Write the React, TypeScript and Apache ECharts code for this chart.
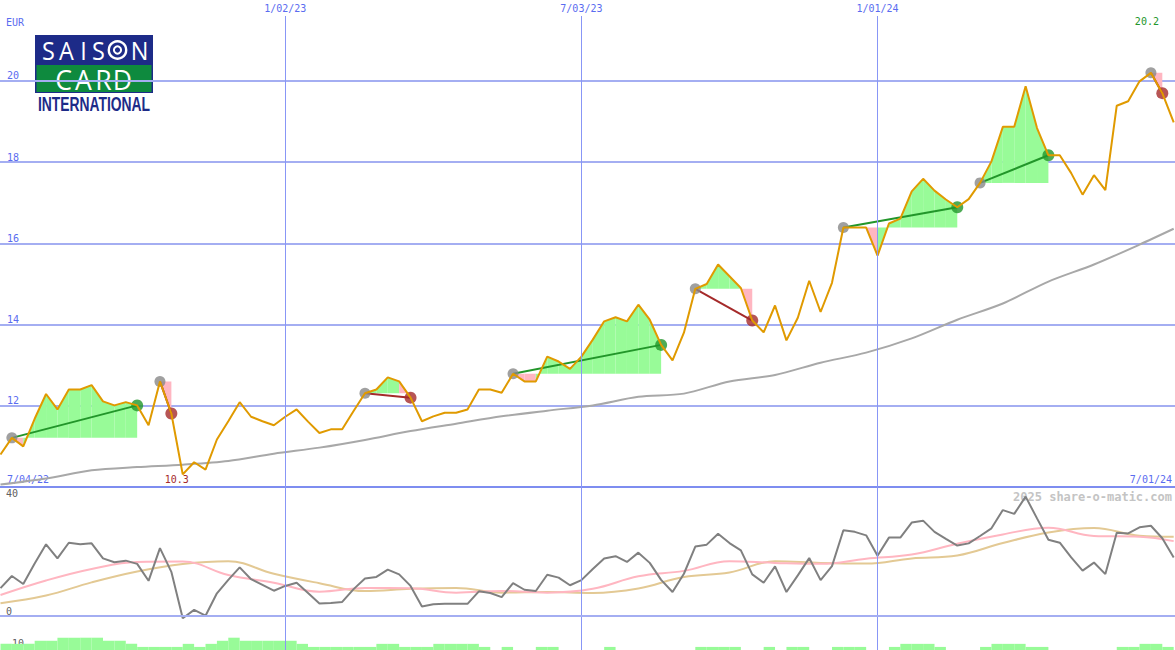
import React, { useEffect, useRef } from "react";
import * as echarts from "echarts";

// ---------- data ----------
const DAY = 86400000;
const FIRST_WEEK = Date.UTC(2022, 6, 11); // first weekly close shown
const weekTime = (k: number) => FIRST_WEEK + k * 7 * DAY;

// weekly closing price (EUR), week 0 .. 103
const price = [
  10.8, 11.21, 11.0, 11.68, 12.29, 11.91, 12.4, 12.4, 12.51, 12.11,
  12.01, 12.09, 12.01, 11.52, 12.6, 11.81, 10.31, 10.61, 10.43, 11.17,
  11.62, 12.09, 11.73, 11.62, 11.52, 11.73, 11.91, 11.61, 11.33, 11.42,
  11.42, 11.87, 12.31, 12.4, 12.7, 12.6, 12.2, 11.62, 11.74, 11.83,
  11.83, 11.91, 12.4, 12.4, 12.32, 12.79, 12.6, 12.6, 13.21, 13.09,
  12.91, 13.21, 13.63, 14.08, 14.18, 14.08, 14.49, 14.12, 13.5, 13.12,
  13.8, 14.88, 15.0, 15.48, 15.19, 14.9, 14.1, 13.81, 14.47, 13.61,
  14.17, 15.08, 14.31, 15.03, 16.39, 16.39, 16.39, 15.7, 16.49, 16.61,
  17.28, 17.59, 17.3, 17.08, 16.89, 17.09, 17.49, 18.02, 18.87, 18.87,
  19.87, 18.84, 18.17, 18.17, 17.73, 17.2, 17.68, 17.31, 19.39, 19.5,
  19.99, 20.2, 19.7, 18.98,
];

// oscillator (lower panel, grey), week 0 .. 103
const oscillator = [
  8.7, 12.5, 10.0, 16.4, 22.4, 18.0, 22.9, 22.4, 22.7, 18.0,
  16.8, 17.3, 16.3, 11.0, 21.2, 13.8, -0.7, 1.9, 0.1, 7.1,
  11.3, 15.2, 11.5, 9.7, 7.9, 9.4, 10.4, 7.2, 3.9, 4.1,
  4.4, 8.4, 11.7, 12.2, 14.5, 13.0, 9.4, 3.0, 3.7, 3.8,
  3.8, 3.8, 7.7, 7.2, 5.9, 10.3, 8.2, 7.8, 12.9, 12.0,
  9.6, 11.2, 14.7, 18.0, 18.7, 16.9, 19.8, 16.6, 11.3, 7.5,
  13.2, 21.7, 22.3, 25.7, 22.8, 20.5, 13.0, 10.4, 15.5, 7.5,
  12.7, 18.1, 11.2, 15.6, 26.8, 26.3, 25.2, 18.8, 24.5, 24.5,
  29.2, 29.8, 26.3, 24.1, 22.0, 22.7, 25.0, 27.4, 33.1, 31.9,
  37.3, 30.5, 23.8, 22.9, 18.3, 14.2, 16.7, 13.1, 26.0, 25.8,
  27.7, 28.2, 24.3, 18.3,
];

// smooth curves read every 4 weeks
const smoothWeeks = [0, 4, 8, 12, 16, 20, 24, 28, 32, 36, 40, 44, 48, 52, 56, 60, 64, 68, 72, 76, 80, 84, 88, 92, 96, 100, 103];
const movingAverage = [10.06, 10.21, 10.41, 10.49, 10.55, 10.64, 10.82, 10.97, 11.16, 11.38, 11.56, 11.74, 11.88, 12.01, 12.22, 12.3, 12.6, 12.76, 13.06, 13.31, 13.66, 14.12, 14.52, 15.06, 15.48, 15.97, 16.36];
const oscSignalFast = [6.56, 11.1, 14.7, 16.9, 17.0, 12.8, 10.4, 7.6, 8.75, 8.7, 7.3, 7.8, 7.3, 8.5, 12.4, 14.1, 17.1, 16.6, 16.3, 17.9, 19.2, 22.6, 25.5, 27.6, 25.0, 24.8, 23.4];
const oscSignalSlow = [4.0, 6.4, 10.5, 13.9, 16.25, 17.1, 13.2, 10.25, 7.8, 8.5, 8.75, 7.3, 7.5, 7.2, 8.6, 12.2, 13.6, 17.1, 16.6, 16.4, 18.0, 18.9, 22.8, 26.1, 27.5, 25.1, 24.8];

// weekly volume (relative units), week 0 .. 102
const volume = [
  2, 2, 2, 3, 3, 4, 4, 4, 4, 3,
  3, 2, 1, 1, 1, 1, 2, 1, 2, 3,
  4, 3, 3, 3, 3, 3, 2, 1, 1, 1,
  1, 1, 1, 2, 2, 1, 1, 1, 2, 2,
  2, 2, 1, 0, 1, 0, 0, 1, 1, 0,
  0, 0, 0, 1, 0, 0, 0, 0, 0, 0,
  0, 1, 1, 1, 1, 0, 0, 1, 0, 1,
  1, 0, 0, 1, 1, 1, 0, 0, 1, 2,
  2, 2, 1, 0, 0, 0, 1, 2, 2, 2,
  1, 1, 0, 0, 0, 0, 0, 0, 1, 1,
  2, 2, 1,
];

// trades (week indices)
const tradeEntryWeek = [1, 14, 32, 45, 61, 74, 86, 101];
const tradeExitWeek = [12, 15, 36, 58, 66, 84, 92, 102];

// date grid
const dateTickLabels = ["1/02/23", "7/03/23", "1/01/24"];
const dateTickTimes = [Date.UTC(2023, 0, 2), Date.UTC(2023, 6, 3), Date.UTC(2024, 0, 1)];
const rangeStartLabel = "7/04/22";
const rangeEndLabel = "7/01/24";

// ---------- styles ----------
const AX_MIN = FIRST_WEEK - 0.3 * DAY;
const AX_MAX = AX_MIN + 722.1 * DAY;
const MONO = "DejaVu Sans Mono";
const C = {
  grid: "#a4aef2",
  vgrid: "#8896f6",
  sep: "#7e8df0",
  blue: "#5a6cf0",
  price: "#e09a00",
  ma: "#a8a8a8",
  osc: "#808080",
  pink: "#ffb6c1",
  tan: "#e3c994",
  up: "#98fb98",
  down: "#ffb6c1",
  win: "#22962a",
  loss: "#a52a2a",
  entry: "#888888",
  label: "#606060",
  water: "#c4c4c4",
  navy: "#1d2b88",
  green: "#0e8a3e",
};

function buildOption() {
  const priceData = price.map((p, k) => [weekTime(k), p]);
  const maData = smoothWeeks.map((k, i) => [weekTime(k), movingAverage[i]]);
  const fastData = smoothWeeks.map((k, i) => [weekTime(k), oscSignalFast[i]]);
  const slowData = smoothWeeks.map((k, i) => [weekTime(k), oscSignalSlow[i]]);
  const oscData = oscillator.map((v, k) => [weekTime(k), v]);
  const volData = volume
    .map((v, k) => [weekTime(k), weekTime(k + 1), v])
    .filter((d) => d[2] > 0);

  const fillSegments: number[][] = [];
  const trendLines: number[][] = [];
  tradeEntryWeek.forEach((e, i) => {
    const x = tradeExitWeek[i];
    const level = price[e];
    for (let k = e; k < x; k++) {
      fillSegments.push([weekTime(k), weekTime(k + 1), price[k], price[k + 1], level, price[k + 1] >= level ? 1 : 0]);
    }
    trendLines.push([weekTime(e), price[e], weekTime(x), price[x], price[x] >= price[e] ? 1 : 0]);
  });

  let iMax = 0;
  let iMin = 0;
  price.forEach((p, i) => {
    if (p > price[iMax]) iMax = i;
    if (p < price[iMin]) iMin = i;
  });

  const Y_MIN = 10;
  const Y_MAX = 21.6;

  const txt = (text: string, x: number, y: number, color: string, size: number, align = "left") => ({
    type: "text",
    x,
    y,
    silent: true,
    style: { text, fill: color, fontFamily: MONO, fontSize: size, align, verticalAlign: "middle" },
  });
  const letter = (text: string, x: number, y: number, size: number, sx = 1) => ({
    type: "text",
    x,
    y,
    scaleX: sx,
    silent: true,
    style: {
      text,
      fill: "#ffffff",
      fontFamily: "Open Sans",
      fontWeight: 400,
      fontSize: size,
      lineHeight: size * 0.8,
      align: "center",
      verticalAlign: "middle",
    },
  });

  return {
    animation: false,
    grid: [
      { left: 0, right: 0, top: 16, height: 471 },
      { left: 0, right: 0, top: 487, height: 163 },
    ],
    xAxis: [
      {
        type: "time",
        gridIndex: 0,
        min: AX_MIN,
        max: AX_MAX,
        axisLine: { show: true, lineStyle: { color: C.sep, width: 2 } },
        axisTick: { show: false },
        axisLabel: { show: false },
        splitLine: { show: false },
      },
      {
        type: "time",
        gridIndex: 1,
        min: AX_MIN,
        max: AX_MAX,
        axisLine: { show: false },
        axisTick: { show: false },
        axisLabel: { show: false },
        splitLine: { show: false },
      },
    ],
    yAxis: [
      {
        type: "value",
        gridIndex: 0,
        position: "left",
        min: Y_MIN,
        max: Y_MAX,
        interval: 2,
        axisLine: { show: false },
        axisTick: { show: false },
        splitLine: { show: true, showMinLine: false, showMaxLine: false, lineStyle: { color: C.grid, width: 2 } },
        axisLabel: {
          inside: true,
          margin: 7,
          verticalAlign: "bottom",
          color: C.blue,
          fontFamily: MONO,
          fontSize: 10,
          showMinLabel: false,
          showMaxLabel: false,
        },
      },
      {
        type: "value",
        gridIndex: 1,
        position: "left",
        min: -10.625,
        max: 40.3125,
        axisLine: { show: false },
        axisTick: { show: false },
        splitLine: { show: false },
        axisLabel: {
          inside: true,
          margin: 6,
          verticalAlign: "bottom",
          color: C.label,
          fontFamily: MONO,
          fontSize: 10,
          customValues: [0, -10],
        },
      },
      {
        type: "value",
        gridIndex: 1,
        position: "left",
        offset: 0,
        min: -10.625,
        max: 40.3125,
        axisLine: { show: false },
        axisTick: { show: false },
        splitLine: { show: false },
        axisLabel: {
          inside: true,
          margin: 6,
          verticalAlign: "top",
          color: C.label,
          fontFamily: MONO,
          fontSize: 10,
          customValues: [40],
        },
      },
      { type: "value", gridIndex: 1, position: "left", min: 0, max: 53, show: false },
    ],
    series: [
      {
        name: "ma",
        type: "line",
        xAxisIndex: 0,
        yAxisIndex: 0,
        data: maData,
        showSymbol: false,
        smooth: 0.3,
        silent: true,
        lineStyle: { color: C.ma, width: 2 },
        markLine: {
          silent: true,
          symbol: ["none", "none"],
          lineStyle: { color: C.vgrid, width: 1, type: "solid" },
          label: {
            show: true,
            position: "end",
            distance: 3,
            formatter: (p: any) => p.name,
            color: C.blue,
            fontFamily: MONO,
            fontSize: 10,
          },
          data: dateTickTimes.map((t, i) => ({ name: dateTickLabels[i], xAxis: t })),
        },
      },
      {
        name: "fill",
        type: "custom",
        xAxisIndex: 0,
        yAxisIndex: 0,
        silent: true,
        clip: true,
        encode: { x: [0, 1], y: [2, 3, 4] },
        data: fillSegments,
        renderItem: (_p: any, api: any) => {
          const t0 = api.value(0);
          const t1 = api.value(1);
          const lv = api.value(4);
          const a = api.coord([t0, lv]);
          const b = api.coord([t0, api.value(2)]);
          const c = api.coord([t1, api.value(3)]);
          const d = api.coord([t1, lv]);
          return {
            type: "polygon",
            shape: { points: [a, b, c, d] },
            style: { fill: api.value(5) ? C.up : C.down, stroke: null },
          };
        },
      },
      {
        name: "price",
        type: "line",
        xAxisIndex: 0,
        yAxisIndex: 0,
        data: priceData,
        showSymbol: false,
        silent: true,
        lineStyle: { color: C.price, width: 2 },
        markPoint: {
          silent: true,
          symbol: "circle",
          symbolSize: 0,
          data: [
            {
              coord: [weekTime(iMax), Y_MAX],
              value: price[iMax],
              label: { show: true, formatter: price[iMax].toFixed(1), color: C.win, fontFamily: MONO, fontSize: 10, offset: [-4, 5] },
            },
            {
              coord: [weekTime(iMin), Y_MIN],
              value: price[iMin],
              label: { show: true, formatter: price[iMin].toFixed(1), color: C.loss, fontFamily: MONO, fontSize: 10, offset: [-6, -8] },
            },
          ],
        },
      },
      {
        name: "trend",
        type: "custom",
        xAxisIndex: 0,
        yAxisIndex: 0,
        silent: true,
        encode: { x: [0, 2], y: [1, 3] },
        data: trendLines,
        renderItem: (_p: any, api: any) => {
          const a = api.coord([api.value(0), api.value(1)]);
          const b = api.coord([api.value(2), api.value(3)]);
          return {
            type: "line",
            shape: { x1: a[0], y1: a[1], x2: b[0], y2: b[1] },
            style: { stroke: api.value(4) ? C.win : C.loss, lineWidth: 2 },
          };
        },
      },
      {
        name: "entry",
        type: "scatter",
        xAxisIndex: 0,
        yAxisIndex: 0,
        silent: true,
        symbolSize: 11,
        itemStyle: { color: C.entry },
        data: tradeEntryWeek.map((k) => [weekTime(k), price[k]]),
      },
      {
        name: "exit",
        type: "scatter",
        xAxisIndex: 0,
        yAxisIndex: 0,
        silent: true,
        symbolSize: 12,
        data: tradeExitWeek.map((k, i) => ({
          value: [weekTime(k), price[k]],
          itemStyle: { color: price[k] >= price[tradeEntryWeek[i]] ? C.win : C.loss },
        })),
      },
      // lower panel
      {
        name: "volume",
        type: "custom",
        xAxisIndex: 1,
        yAxisIndex: 3,
        silent: true,
        clip: true,
        encode: { x: [0, 1], y: 2 },
        data: volData,
        renderItem: (_p: any, api: any) => {
          const a = api.coord([api.value(0), api.value(2)]);
          const b = api.coord([api.value(1), 0]);
          return {
            type: "rect",
            shape: { x: a[0], y: a[1], width: b[0] - a[0], height: b[1] - a[1] },
            style: { fill: C.up },
          };
        },
      },
      {
        name: "slow",
        type: "line",
        xAxisIndex: 1,
        yAxisIndex: 1,
        data: slowData,
        showSymbol: false,
        smooth: 0.4,
        silent: true,
        lineStyle: { color: C.tan, width: 2 },
        markLine: {
          silent: true,
          symbol: ["none", "none"],
          label: { show: false },
          lineStyle: { color: C.vgrid, width: 1, type: "solid" },
          data: [
            ...dateTickTimes.map((t) => ({ xAxis: t })),
            { yAxis: 0, lineStyle: { color: C.grid, width: 2, type: "solid" } },
          ],
        },
      },
      {
        name: "fast",
        type: "line",
        xAxisIndex: 1,
        yAxisIndex: 1,
        data: fastData,
        showSymbol: false,
        smooth: 0.4,
        silent: true,
        lineStyle: { color: C.pink, width: 2 },
      },
      {
        name: "oscillator",
        type: "line",
        xAxisIndex: 1,
        yAxisIndex: 1,
        data: oscData,
        showSymbol: false,
        silent: true,
        lineStyle: { color: C.osc, width: 2 },
      },
    ],
    graphic: {
      elements: [
        txt("EUR", 6, 22, C.blue, 10),
        txt(rangeStartLabel, 7, 479, C.blue, 10),
        txt(rangeEndLabel, 1172, 479, C.blue, 10, "right"),
        {
          type: "text",
          x: 1172,
          y: 497,
          silent: true,
          style: {
            text: "2025 share-o-matic.com",
            fill: C.water,
            fontFamily: MONO,
            fontSize: 12,
            fontWeight: "bold",
            align: "right",
            verticalAlign: "middle",
          },
        },
        // logo
        { type: "rect", silent: true, shape: { x: 35, y: 35, width: 118, height: 58 }, style: { fill: C.navy } },
        { type: "rect", silent: true, shape: { x: 36.5, y: 65, width: 115, height: 27 }, style: { fill: C.green } },
        letter("S", 48.5, 50.5, 26, 0.9),
        letter("A", 66.5, 50.5, 26, 0.9),
        letter("I", 83.5, 50.5, 26, 0.9),
        letter("S", 98.5, 50.5, 26, 0.9),
        { type: "circle", silent: true, shape: { cx: 117.5, cy: 50, r: 8.7 }, style: { fill: "none", stroke: "#ffffff", lineWidth: 2.4 } },
        { type: "circle", silent: true, shape: { cx: 117.5, cy: 50, r: 3.6 }, style: { fill: "none", stroke: "#ffffff", lineWidth: 2 } },
        letter("N", 139.5, 50.5, 26, 0.9),
        letter("C", 63.5, 79.5, 28, 0.95),
        letter("A", 83.5, 79.5, 28, 0.95),
        letter("R", 103.5, 79.5, 28, 0.95),
        letter("D", 122.5, 79.5, 28, 0.95),
        {
          type: "text",
          x: 94,
          y: 104,
          scaleX: 0.66,
          silent: true,
          style: {
            text: "INTERNATIONAL",
            fill: C.navy,
            fontFamily: "Liberation Sans",
            fontWeight: "bold",
            fontSize: 21,
            lineHeight: 17,
            align: "center",
            verticalAlign: "middle",
          },
        },
      ],
    },
  };
}

export default function App() {
  const ref = useRef<HTMLDivElement>(null);
  useEffect(() => {
    const chart = echarts.init(ref.current!, null, { renderer: "svg" });
    chart.setOption(buildOption() as any);
    return () => chart.dispose();
  }, []);
  return (
    <div
      ref={ref}
      style={{ position: "absolute", left: 0, top: 0, width: 1175, height: 650, background: "#ffffff" }}
    />
  );
}
